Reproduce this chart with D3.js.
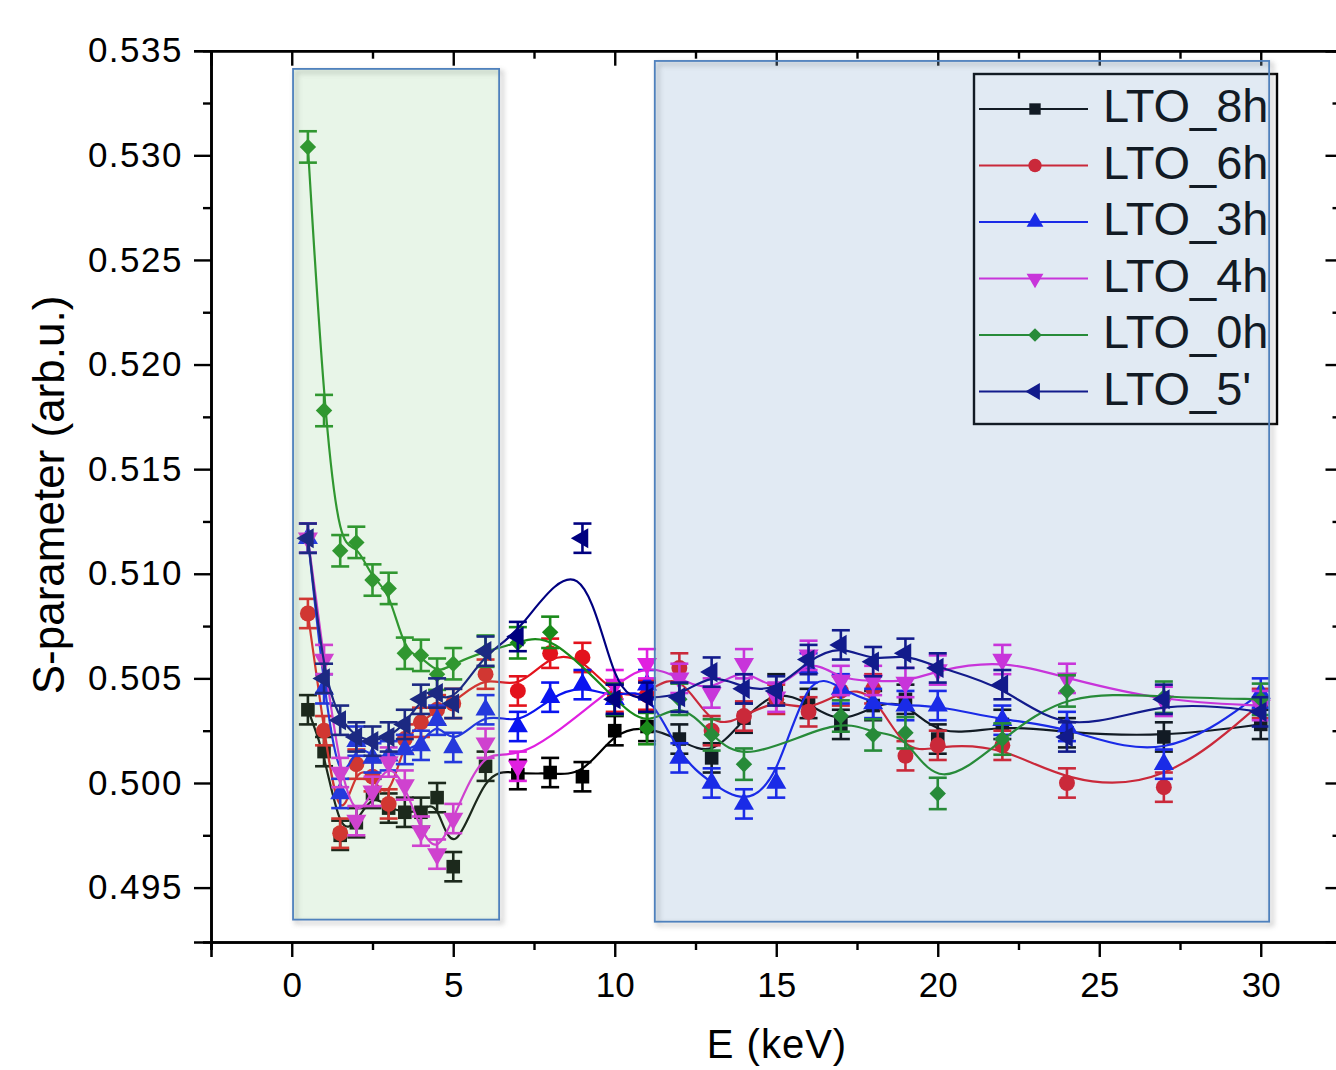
<!DOCTYPE html>
<html><head><meta charset="utf-8">
<script src="https://cdn.jsdelivr.net/npm/d3@7"></script>
<style>
html,body{margin:0;padding:0;background:#fff;}
svg{display:block;font-family:"Liberation Sans",Arial,sans-serif;}
</style></head>
<body><svg id="c" width="1336" height="1070"></svg>
<script>
// ---------- data ----------
const energies = [0.5,1,1.5,2,2.5,3,3.5,4,4.5,5,6,7,8,9,10,11,12,13,14,15,16,17,18,19,20,22,24,27,30];
const s8h = [0.5035,0.5015,0.4975,0.4981,0.4995,0.4988,0.4986,0.4986,0.4993,0.4960,0.5008,0.5004,0.5005,0.5003,0.5025,0.5027,0.5021,0.5012,0.5031,0.5045,0.5038,0.5028,0.5037,0.5040,0.5021,0.5028,0.5024,0.5022,0.5028];
const s6h = [0.5081,0.5025,0.4976,0.5009,0.5003,0.4990,0.5021,0.5029,0.5035,0.5038,0.5052,0.5044,0.5062,0.5060,0.5041,0.5042,0.5055,0.5025,0.5032,0.5040,0.5034,0.5044,0.5045,0.5013,0.5018,0.5018,0.5000,0.4998,0.5038];
const s3h = [0.5117,0.5045,0.4995,0.5020,0.5012,0.5013,0.5016,0.5018,0.5030,0.5017,0.5035,0.5027,0.5041,0.5047,0.5040,0.5047,0.5012,0.5000,0.4990,0.5000,0.5055,0.5045,0.5038,0.5037,0.5037,0.5030,0.5027,0.5009,0.5043];
const s4h = [0.5117,0.5059,0.5005,0.4982,0.4996,0.5010,0.4999,0.4977,0.4966,0.4983,0.5019,0.5008,null,null,0.5047,0.5057,0.5050,0.5043,0.5057,0.5041,0.5061,0.5049,0.5049,0.5048,0.5054,0.5059,0.5050,0.5039,0.5037];
const s0h = [0.5304,0.5178,0.5111,0.5115,0.5097,0.5093,0.5062,0.5061,0.5052,0.5057,0.5063,0.5067,0.5072,null,0.5040,0.5026,0.5040,0.5023,0.5009,null,null,0.5032,0.5023,0.5024,0.4995,0.5021,0.5044,0.5041,0.5040];
const s5m = [0.5117,0.5050,0.5030,0.5022,0.5020,0.5022,0.5028,0.5040,0.5043,0.5038,0.5063,0.5070,null,0.5117,0.5040,0.5041,0.5041,0.5053,0.5045,0.5044,0.5059,0.5066,0.5058,0.5062,0.5055,0.5047,0.5022,0.5040,0.5034];
const seriesNames = ["LTO_8h","LTO_6h","LTO_3h","LTO_4h","LTO_0h","LTO_5'"];
const seriesErrors = [0.0007,0.0007,0.0007,0.0007,0.00075,0.0007];
const xTicks = [0,5,10,15,20,25,30];
const yTicks = [0.495,0.500,0.505,0.510,0.515,0.520,0.525,0.530,0.535];
const xLabel = "E (keV)";
const yLabel = "S-parameter (arb.u.)";
// highlighted regions [x0,x1,y0,y1] in data units
const regionLow = [0.04, 6.42, 0.49347, 0.53413];
const regionHigh = [11.24, 30.26, 0.49337, 0.53451];

// ---------- styling ----------
const colors = ["#000000","#e3121c","#0a14f0","#e020e0","#1a8a1a","#000080"];
const symbols = [
  {t:d3.symbolSquare, s:185, r:0},
  {t:d3.symbolCircle, s:200, r:0},
  {t:d3.symbolTriangle, s:175, r:0},
  {t:d3.symbolTriangle, s:175, r:180},
  {t:d3.symbolSquare, s:135, r:45},
  {t:d3.symbolTriangle, s:175, r:-90}
];
const seriesVals = [s8h,s6h,s3h,s4h,s0h,s5m];

const svg = d3.select("#c");
const x = d3.scaleLinear().domain([-2.5,32.5]).range([211,1341.5]);
const y = d3.scaleLinear().domain([0.4924,0.535]).range([942,50.7]);

const defs = svg.append("defs");
defs.append("filter").attr("id","blur").attr("x","-5%").attr("y","-5%").attr("width","110%").attr("height","110%")
  .append("feGaussianBlur").attr("stdDeviation",2.5);

// ---------- axes ----------
const axG = svg.append("g").attr("class","axes");
function styleAxis(g){
  g.selectAll("path.domain").attr("stroke","#000").attr("stroke-width",2.6);
  g.selectAll(".tick line").attr("stroke","#000").attr("stroke-width",2.4);
  g.selectAll("text").attr("fill","#000").attr("font-family","Liberation Sans, Arial, sans-serif");
}
const fmtY = d3.format(".3f");
const minorX = d3.range(-2.5,32.6,2.5).filter(v=>Math.abs(v/5-Math.round(v/5))>1e-6);
const minorY = d3.range(0.4975,0.535,0.005);

// left
axG.append("g").attr("transform",`translate(${x(-2.5)},0)`)
  .call(d3.axisLeft(y).tickValues(yTicks).tickSize(17).tickPadding(11).tickFormat(fmtY))
  .call(styleAxis).call(g=>g.selectAll("text").attr("font-size",35).attr("letter-spacing","1.5px"));
axG.append("g").attr("transform",`translate(${x(-2.5)},0)`)
  .call(d3.axisLeft(y).tickValues(minorY).tickSize(8).tickFormat(""))
  .call(styleAxis);
// bottom
axG.append("g").attr("transform",`translate(0,${y(0.4924)})`)
  .call(d3.axisBottom(x).tickValues(xTicks).tickSize(15).tickPadding(15).tickFormat(d3.format("d")))
  .call(styleAxis).call(g=>g.selectAll("text").attr("font-size",35));
axG.append("g").attr("transform",`translate(0,${y(0.4924)})`)
  .call(d3.axisBottom(x).tickValues(minorX).tickSize(8).tickFormat(""))
  .call(styleAxis);
// top (inward)
axG.append("g").attr("transform",`translate(0,${y(0.535)})`)
  .call(d3.axisTop(x).tickValues(xTicks).tickSize(-15).tickFormat(""))
  .call(styleAxis);
axG.append("g").attr("transform",`translate(0,${y(0.535)})`)
  .call(d3.axisTop(x).tickValues(minorX).tickSize(-8).tickFormat(""))
  .call(styleAxis);
// right (inward)
axG.append("g").attr("transform",`translate(${x(32.5)},0)`)
  .call(d3.axisRight(y).tickValues(yTicks).tickSize(-16).tickFormat(""))
  .call(styleAxis);
axG.append("g").attr("transform",`translate(${x(32.5)},0)`)
  .call(d3.axisRight(y).tickValues(minorY).tickSize(-9).tickFormat(""))
  .call(styleAxis);

// axis titles
svg.append("text").attr("x",777).attr("y",1058).attr("text-anchor","middle")
  .attr("font-size",40).attr("letter-spacing","1px").text(xLabel);
svg.append("text").attr("transform","translate(64,495) rotate(-90)").attr("text-anchor","middle")
  .attr("font-size",44).text(yLabel);

// ---------- series ----------
const dataG = svg.append("g");
const line = d3.line().x(d=>x(d.e)).y(d=>y(d.v)).curve(d3.curveBasis);
seriesVals.forEach((vals,i)=>{
  const pts = energies.map((e,k)=>({e, v: vals[k]})).filter(d=>d.v!=null);
  const g = dataG.append("g");
  g.append("path").datum(pts).attr("d",line).attr("fill","none")
    .attr("stroke",colors[i]).attr("stroke-width",2.2);
  const err = seriesErrors[i];
  const eb = g.selectAll("g.eb").data(pts).join("g");
  eb.append("line").attr("x1",d=>x(d.e)).attr("x2",d=>x(d.e))
    .attr("y1",d=>y(d.v-err)).attr("y2",d=>y(d.v+err))
    .attr("stroke",colors[i]).attr("stroke-width",2.6);
  [-1,1].forEach(sg=>{
    eb.append("line").attr("x1",d=>x(d.e)-9).attr("x2",d=>x(d.e)+9)
      .attr("y1",d=>y(d.v+sg*err)).attr("y2",d=>y(d.v+sg*err))
      .attr("stroke",colors[i]).attr("stroke-width",2.6);
  });
  const sym = d3.symbol().type(symbols[i].t).size(symbols[i].s);
  g.selectAll("path.m").data(pts).join("path").attr("class","m")
    .attr("d",sym)
    .attr("transform",d=>`translate(${x(d.e)},${y(d.v)}) rotate(${symbols[i].r})`)
    .attr("fill",colors[i]);
});

// ---------- legend ----------
const lg = svg.append("g");
lg.append("rect").attr("x",974).attr("y",74).attr("width",303).attr("height",350)
  .attr("fill","none").attr("stroke","#000").attr("stroke-width",2.4);
seriesNames.forEach((n,i)=>{
  const ly = 109 + i*56.5;
  lg.append("line").attr("x1",979).attr("x2",1088).attr("y1",ly).attr("y2",ly)
    .attr("stroke",colors[i]).attr("stroke-width",2.2);
  lg.append("path").attr("d",d3.symbol().type(symbols[i].t).size(symbols[i].s*0.7))
    .attr("transform",`translate(1035,${ly}) rotate(${symbols[i].r})`).attr("fill",colors[i]);
  lg.append("text").attr("x",1103).attr("y",ly+13).attr("font-size",47).attr("fill","#000").text(n);
});

// ---------- highlighted regions (translucent overlays) ----------
function region(r, fill, op){
  const rx = x(r[0]), rw = x(r[1])-x(r[0]), ry = y(r[3]), rh = y(r[2])-y(r[3]);
  svg.append("rect").attr("x",rx+3).attr("y",ry+3).attr("width",rw).attr("height",rh)
    .attr("fill","none").attr("stroke","#888").attr("stroke-width",3).attr("opacity",0.45)
    .attr("filter","url(#blur)");
  svg.append("rect").attr("x",rx).attr("y",ry).attr("width",rw).attr("height",rh)
    .attr("fill",fill).attr("fill-opacity",op).attr("stroke","#4f81bd").attr("stroke-width",1.8);
}
region(regionLow, "#8ccd8c", 0.2);
region(regionHigh, "#5f8fbf", 0.19);
</script></body></html>
